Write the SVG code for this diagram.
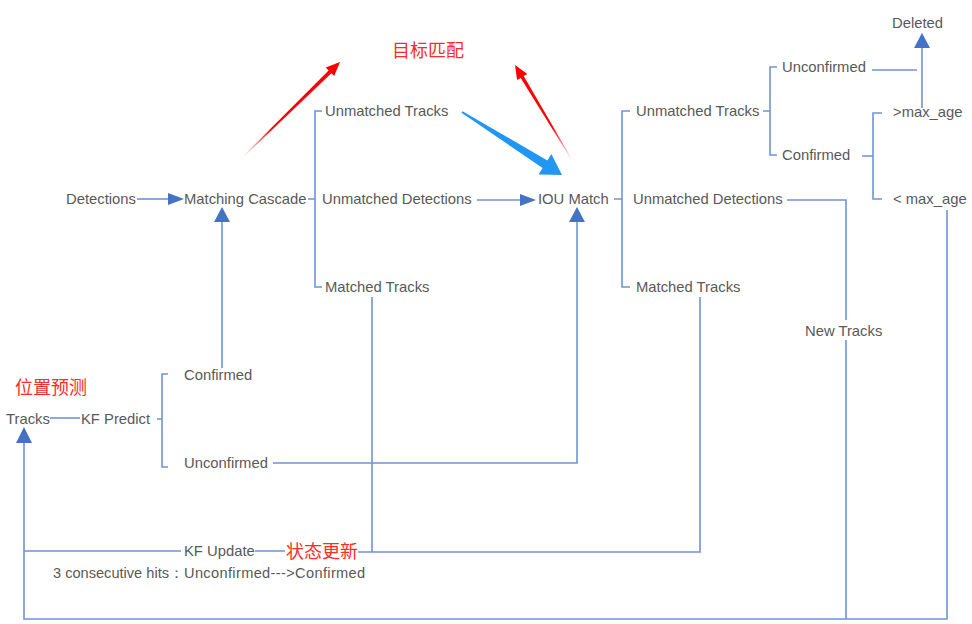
<svg xmlns="http://www.w3.org/2000/svg" width="972" height="624" viewBox="0 0 972 624">
<style>
.t{font-family:"Liberation Sans",Arial,sans-serif;font-size:14.8px;fill:#595959}
.s{font-size:14.6px}
.r{font-family:"Noto Sans CJK SC",sans-serif;font-size:18px;fill:#ff2a2a}
.l{fill:none;stroke:#7193d8;stroke-width:1.6}
.h{fill:#4472c4}
</style>
<defs>
<linearGradient id="g1" gradientUnits="userSpaceOnUse" x1="243" y1="157" x2="340" y2="62">
<stop offset="0" stop-color="#ff0000" stop-opacity="0"/>
<stop offset="0.3" stop-color="#ff0000" stop-opacity="1"/>
<stop offset="1" stop-color="#ff0000"/>
</linearGradient>
<linearGradient id="g2" gradientUnits="userSpaceOnUse" x1="572" y1="160" x2="515" y2="65">
<stop offset="0" stop-color="#ff0000" stop-opacity="0"/>
<stop offset="0.35" stop-color="#ff0000" stop-opacity="1"/>
<stop offset="1" stop-color="#ff0000"/>
</linearGradient>
</defs>
<g id="connectors">
<path class="l" d="M137,199 H169"/>
<polygon class="h" points="168,193 184,199 168,205"/>
<path class="l" d="M308,199 H315 M322,111 H315 V287 H322"/>
<path class="l" d="M477,200 H521"/>
<polygon class="h" points="520,194 536,200 520,206"/>
<path class="l" d="M614,199 H622 M630,111 H622 V287 H630"/>
<path class="l" d="M763,111 H770 M777,67 H770 V155 H777"/>
<path class="l" d="M872,70 H917"/>
<path class="l" d="M862,156 H873 M882,113 H873 V199 H882"/>
<path class="l" d="M922,108 V47"/>
<polygon class="h" points="914,48 922,33 930,48"/>
<path class="l" d="M787,200 H846 V320 M846,340 V619"/>
<path class="l" d="M947,210 V619 H24 V442"/>
<polygon class="h" points="16,443 24,427 32,443"/>
<path class="l" d="M50,418 H80"/>
<path class="l" d="M157,419 H162 M168,374 H162 V467 H168"/>
<path class="l" d="M222,368 V221"/>
<polygon class="h" points="214,222 222,207 230,222"/>
<path class="l" d="M273,463 H577 V221"/>
<polygon class="h" points="569,222 577,207 585,222"/>
<path class="l" d="M24,551 H181 M255,551 H285 M358,552 H700 V297 M372,297 V552"/>
<polygon fill="url(#g1)" points="243.3,157.3 331.4,73.2 334.2,76.1 340,62 325.8,67.5 328.6,70.4 242.7,156.7"/>
<polygon fill="url(#g2)" points="572.3,159.8 523.7,76.1 527.3,73.9 515,65 517.1,80.1 520.7,77.9 571.7,160.2"/>
<polygon fill="#2196f3" points="462.5,111.2 547.4,160.5 551.4,154.1 562,175 538.6,174.5 542.6,168.1 461.5,112.8"/>
</g>
<g id="n-detections"><text class="t" x="66" y="204">Detections</text></g>
<g id="n-matching-cascade"><text class="t" x="184" y="204">Matching Cascade</text></g>
<g id="n-unmatched-tracks-1"><text class="t" x="325" y="116">Unmatched Tracks</text></g>
<g id="n-unmatched-detections-1"><text class="t" x="322" y="204">Unmatched Detections</text></g>
<g id="n-matched-tracks-1"><text class="t" x="325" y="292">Matched Tracks</text></g>
<g id="n-iou-match"><text class="t" x="538" y="204">IOU Match</text></g>
<g id="n-unmatched-tracks-2"><text class="t" x="636" y="116">Unmatched Tracks</text></g>
<g id="n-unmatched-detections-2"><text class="t" x="633" y="204">Unmatched Detections</text></g>
<g id="n-matched-tracks-2"><text class="t" x="636" y="292">Matched Tracks</text></g>
<g id="n-unconfirmed-2"><text class="t" x="782" y="72">Unconfirmed</text></g>
<g id="n-confirmed-2"><text class="t" x="782" y="160">Confirmed</text></g>
<g id="n-gt-max-age"><text class="t" x="893" y="117">&gt;max_age</text></g>
<g id="n-lt-max-age"><text class="t" x="893" y="204">&lt; max_age</text></g>
<g id="n-deleted"><text class="t" x="892" y="28">Deleted</text></g>
<g id="n-new-tracks"><text class="t" x="805" y="336">New Tracks</text></g>
<g id="n-confirmed-1"><text class="t" x="184" y="380">Confirmed</text></g>
<g id="n-tracks"><text class="t" x="6" y="424">Tracks</text></g>
<g id="n-kf-predict"><text class="t" x="81" y="424">KF Predict</text></g>
<g id="n-unconfirmed-1"><text class="t" x="184" y="468">Unconfirmed</text></g>
<g id="n-kf-update"><text class="t" x="184" y="556">KF Update</text></g>
<g id="n-note"><text class="t s" x="53" y="578">3 consecutive hits：<tspan x="184" letter-spacing="0.35">Unconfirmed---&gt;Confirmed</tspan></text></g>
<g id="n-predict-label"><text class="r" x="15" y="394">位置预测</text></g>
<g id="n-match-label"><text class="r" x="392" y="57">目标匹配</text></g>
<g id="n-update-label"><text class="r" x="286" y="558">状态更新</text></g>
</svg>
